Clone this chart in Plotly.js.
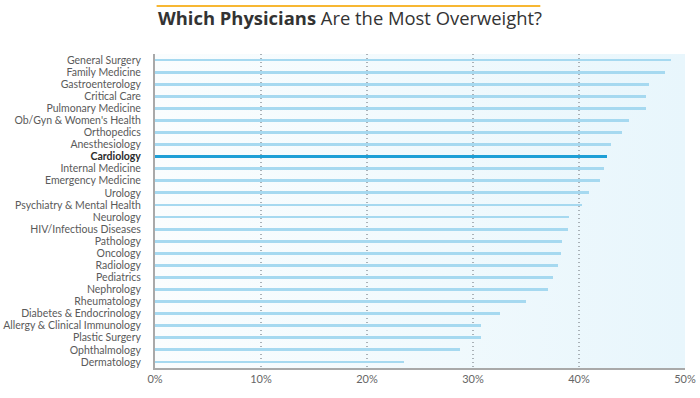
<!DOCTYPE html>
<html>
<head>
<meta charset="utf-8">
<script src="https://cdn.plot.ly/plotly-3.0.1.min.js"></script>
<style>html,body{margin:0;padding:0;background:#fff;}#chart{width:700px;height:398px;}</style>
</head>
<body>
<div id="chart"></div>
<script>
const specialties = [
  "General Surgery","Family Medicine","Gastroenterology","Critical Care","Pulmonary Medicine",
  "Ob/Gyn & Women's Health","Orthopedics","Anesthesiology","Cardiology","Internal Medicine",
  "Emergency Medicine","Urology","Psychiatry & Mental Health","Neurology","HIV/Infectious Diseases",
  "Pathology","Oncology","Radiology","Pediatrics","Nephrology","Rheumatology",
  "Diabetes & Endocrinology","Allergy & Clinical Immunology","Plastic Surgery","Ophthalmology","Dermatology"
];
const overweightPct = [
  48.7,48.1,46.6,46.3,46.3,
  44.7,44.1,43.0,42.6,42.4,
  42.0,40.9,40.3,39.1,39.0,
  38.4,38.3,38.0,37.5,37.1,35.0,
  32.5,30.8,30.8,28.8,23.5
];
const xTickVals = [0,10,20,30,40,50];
const xTickText = ["0%","10%","20%","30%","40%","50%"];
const highlight = "Cardiology";

const colors = specialties.map(s => s === highlight ? "#1e9fd6" : "#a6d9f0");
const widths = specialties.map(s => s === highlight ? 0.28 : 0.24);
const tickText = specialties.map(s => s === highlight ? '<b><span style="color:#2b2b2b">' + s + '</span></b>' : s);

const gradSvg = '<svg xmlns="http://www.w3.org/2000/svg" width="100" height="100" preserveAspectRatio="none">' +
  '<defs><linearGradient id="g" x1="0" y1="0" x2="1" y2="0">' +
  '<stop offset="0" stop-color="#fafdfe"/><stop offset="1" stop-color="#e8f6fc"/>' +
  '</linearGradient></defs><rect width="100" height="100" fill="url(#g)"/></svg>';

const trace = {
  type: "bar",
  orientation: "h",
  y: specialties,
  x: overweightPct,
  marker: {color: colors, line: {width: 0}},
  width: widths,
  hoverinfo: "x+y"
};

const layout = {
  width: 700, height: 398,
  margin: {l: 155, r: 15, t: 54, b: 30, pad: 0},
  paper_bgcolor: "#ffffff",
  plot_bgcolor: "rgba(0,0,0,0)",
  font: {family: "Lato, 'Open Sans', sans-serif", color: "#555"},
  title: {
    text: "<b>Which Physicians</b> Are the Most Overweight?",
    font: {size: 18.4, color: "#333", family: "'Open Sans', sans-serif"},
    x: 0.5, xref: "container", xanchor: "center",
    y: 0.953, yref: "container", yanchor: "middle"
  },
  showlegend: false,
  bargap: 0,
  xaxis: {
    range: [0, 50],
    tickvals: xTickVals, ticktext: xTickText,
    tickfont: {size: 11, color: "#666"},
    showgrid: true, gridcolor: "#aab2b8", griddash: "1px,3px", gridwidth: 1.2,
    zeroline: false,
    showline: true, linecolor: "#a9a9a9", linewidth: 2,
    ticks: "", fixedrange: true
  },
  yaxis: {
    type: "category",
    categoryorder: "array", categoryarray: specialties,
    autorange: false, range: [specialties.length - 0.5, -0.5],
    tickvals: specialties, ticktext: tickText,
    tickfont: {size: 10.5, color: "#5a5a5a"},
    ticklabelstandoff: 10,
    showgrid: false, zeroline: false,
    showline: true, linecolor: "#a9a9a9", linewidth: 2,
    ticks: "", fixedrange: true
  },
  images: [{
    source: "data:image/svg+xml;charset=utf-8," + encodeURIComponent(gradSvg),
    xref: "paper", yref: "paper", x: 0, y: 1, sizex: 1, sizey: 1,
    xanchor: "left", yanchor: "top", sizing: "stretch", layer: "below"
  }],
  shapes: [{
    type: "line", xref: "paper", yref: "paper",
    x0: 0.003, x1: 0.727, y0: 1.153, y1: 1.153,
    line: {color: "#f7b733", width: 2}
  }]
};

Plotly.newPlot("chart", [trace], layout, {displayModeBar: false, staticPlot: true});
</script>
</body>
</html>
